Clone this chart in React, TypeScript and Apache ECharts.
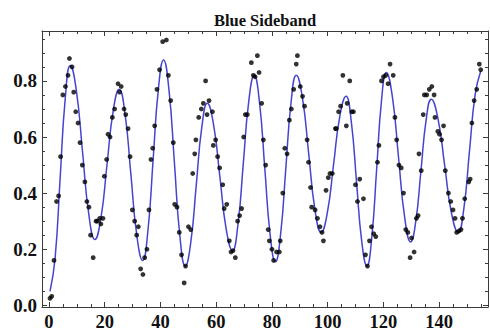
import React, { useEffect, useRef } from "react";
import * as echarts from "echarts";

const titleText = "Blue Sideband";
const xRange = [-2.51, 157.57];
const yRange = [-0.006, 0.978];
const xMajorTicks = [0, 20, 40, 60, 80, 100, 120, 140];
const xMinorTicks = [5, 10, 15, 25, 30, 35, 45, 50, 55, 65, 70, 75, 85, 90, 95, 105, 110, 115, 125, 130, 135, 145, 150, 155];
const yMajorTicks = [0, 0.2, 0.4, 0.6, 0.8];
const yMinorTicks = [0.05, 0.1, 0.15, 0.25, 0.3, 0.35, 0.45, 0.5, 0.55, 0.65, 0.7, 0.75, 0.85, 0.9, 0.95];

const dots: [number, number][] = [
  [0.36, 0.025], [0.97, 0.032], [1.8, 0.16], [2.72, 0.37], [3.44, 0.39], [4.16, 0.53], [4.98, 0.75], [5.9, 0.78],
  [6.83, 0.82], [7.34, 0.88], [8.26, 0.85], [8.88, 0.76], [9.6, 0.69], [10.42, 0.65], [11.14, 0.58], [11.96, 0.5],
  [12.88, 0.44], [13.6, 0.37], [14.32, 0.35], [14.94, 0.25], [15.86, 0.17], [16.89, 0.3], [17.4, 0.3], [18.22, 0.31],
  [18.63, 0.29], [19.35, 0.31], [19.86, 0.46], [20.69, 0.52], [21.2, 0.61], [21.92, 0.6], [22.74, 0.67], [23.56, 0.7],
  [24.79, 0.79], [25.31, 0.76], [25.92, 0.78], [26.95, 0.7], [27.56, 0.68], [28.39, 0.63], [29.1, 0.53], [29.93, 0.34],
  [30.75, 0.3], [31.47, 0.25], [32.08, 0.28], [32.9, 0.13], [33.72, 0.11], [34.34, 0.17], [35.16, 0.2], [35.88, 0.34],
  [36.6, 0.52], [37.21, 0.56], [37.93, 0.64], [38.75, 0.77], [39.68, 0.84], [40.81, 0.94], [42.14, 0.946], [42.86, 0.82],
  [43.68, 0.73], [44.61, 0.58], [45.12, 0.36], [45.94, 0.35], [46.76, 0.26], [47.58, 0.18], [48.51, 0.08], [49.02, 0.14],
  [50.05, 0.28], [50.87, 0.27], [51.59, 0.47], [52.31, 0.54], [52.72, 0.59], [53.74, 0.67], [54.67, 0.7], [55.39, 0.72],
  [56.21, 0.8], [56.72, 0.68], [57.44, 0.73], [58.67, 0.69], [58.98, 0.57], [59.8, 0.59], [60.52, 0.53], [61.24, 0.49],
  [62.37, 0.43], [62.88, 0.345], [63.8, 0.36], [64.73, 0.23], [65.34, 0.19], [66.06, 0.195], [66.88, 0.17], [67.7, 0.3],
  [68.42, 0.32], [69.14, 0.345], [69.86, 0.6], [70.48, 0.68], [71.19, 0.68], [72.63, 0.865], [73.35, 0.82], [73.97, 0.815],
  [74.79, 0.89], [75.4, 0.83], [76.33, 0.72], [76.94, 0.59], [77.77, 0.5], [78.69, 0.27], [79.1, 0.23], [80.02, 0.2],
  [80.64, 0.16], [81.67, 0.19], [82.69, 0.19], [83.0, 0.23], [83.92, 0.4], [84.64, 0.56], [85.46, 0.54], [86.29, 0.66],
  [87.0, 0.7], [87.83, 0.77], [88.75, 0.86], [89.16, 0.89], [90.19, 0.78], [91.01, 0.745], [91.73, 0.71], [92.65, 0.59],
  [93.16, 0.51], [93.88, 0.42], [94.29, 0.35], [95.52, 0.34], [96.35, 0.31], [97.27, 0.28], [97.99, 0.26], [98.5, 0.23],
  [99.43, 0.41], [100.25, 0.455], [100.86, 0.47], [101.68, 0.47], [102.81, 0.63], [103.12, 0.63], [103.94, 0.69], [104.66, 0.71],
  [105.48, 0.82], [106.72, 0.64], [107.02, 0.72], [107.95, 0.8], [108.67, 0.69], [109.28, 0.69], [110.0, 0.43], [110.72, 0.37],
  [111.54, 0.45], [112.87, 0.38], [113.59, 0.18], [114.31, 0.14], [115.03, 0.23], [115.75, 0.28], [116.57, 0.255], [117.29, 0.245],
  [117.91, 0.51], [118.42, 0.57], [119.34, 0.8], [120.06, 0.815], [120.88, 0.82], [121.7, 0.79], [122.42, 0.86], [123.55, 0.82],
  [124.17, 0.67], [124.78, 0.59], [125.6, 0.5], [126.43, 0.49], [127.25, 0.4], [128.07, 0.27], [128.79, 0.26], [129.61, 0.17],
  [130.12, 0.24], [131.05, 0.19], [131.87, 0.31], [132.48, 0.32], [132.79, 0.54], [133.61, 0.48], [134.33, 0.68], [134.74, 0.75],
  [135.56, 0.75], [136.49, 0.77], [137.41, 0.78], [138.23, 0.75], [138.54, 0.67], [139.57, 0.62], [140.18, 0.61], [140.9, 0.59],
  [141.62, 0.64], [142.24, 0.48], [143.36, 0.4], [144.19, 0.37], [145.01, 0.34], [145.73, 0.31], [146.34, 0.26], [147.16, 0.265],
  [147.88, 0.27], [148.4, 0.31], [149.22, 0.38], [150.65, 0.44], [151.17, 0.45], [151.78, 0.65], [152.6, 0.73], [153.53, 0.77],
  [154.45, 0.86], [154.97, 0.84],
];

const fitCurve: [number, number][] = [
  [0.36, 0.05], [2.19, 0.168], [4.0, 0.453], [5.83, 0.737], [7.65, 0.855],
  [9.85, 0.764], [12.06, 0.545], [14.27, 0.326], [16.48, 0.235],
  [18.66, 0.313], [20.84, 0.503], [23.03, 0.692], [25.2, 0.77],
  [27.31, 0.681], [29.41, 0.465], [31.52, 0.249], [33.62, 0.16],
  [35.5, 0.265], [37.37, 0.518], [39.25, 0.77], [41.12, 0.875],
  [43.07, 0.767], [45.02, 0.508], [46.97, 0.248], [48.92, 0.14],
  [50.9, 0.225], [52.87, 0.43], [54.85, 0.635], [56.82, 0.72],
  [59.08, 0.643], [61.34, 0.458], [63.6, 0.272], [65.86, 0.195],
  [67.81, 0.287], [69.76, 0.508], [71.71, 0.728], [73.66, 0.82],
  [75.56, 0.723], [77.46, 0.488], [79.36, 0.253], [81.26, 0.155],
  [83.13, 0.253], [85.0, 0.488], [86.88, 0.723], [88.75, 0.82],
  [90.99, 0.738], [93.22, 0.54], [95.45, 0.342], [97.68, 0.26],
  [99.92, 0.331], [102.15, 0.503], [104.38, 0.674], [106.61, 0.745],
  [108.49, 0.656], [110.36, 0.443], [112.24, 0.229], [114.11, 0.14],
  [115.85, 0.241], [117.6, 0.485], [119.34, 0.729], [121.09, 0.83],
  [123.27, 0.742], [125.45, 0.528], [127.64, 0.315], [129.81, 0.226],
  [131.66, 0.3], [133.51, 0.48], [135.36, 0.66], [137.2, 0.735],
  [139.62, 0.665], [142.03, 0.498], [144.44, 0.33], [146.86, 0.26],
  [148.89, 0.344], [150.91, 0.548], [152.94, 0.75], [154.97, 0.835],
];

const FONT = "'Liberation Serif', 'Times New Roman', serif";
const FRAME = "#3a3a3a";

function xAxisDef(position: string, ticks: number[], len: number, labels: boolean, line: boolean) {
  return {
    type: "value",
    position,
    min: xRange[0],
    max: xRange[1],
    axisLine: { show: line, onZero: false, lineStyle: { color: FRAME, width: 1 } },
    axisTick: { show: true, inside: true, length: len, customValues: ticks, lineStyle: { color: FRAME, width: 1 } },
    axisLabel: labels
      ? { show: true, customValues: ticks, margin: 5, color: "#111", fontFamily: FONT, fontWeight: "bold", fontSize: 18.5 }
      : { show: false },
    splitLine: { show: false },
  };
}

function yAxisDef(position: string, ticks: number[], len: number, labels: boolean, line: boolean) {
  return {
    type: "value",
    position,
    min: yRange[0],
    max: yRange[1],
    axisLine: { show: line, onZero: false, lineStyle: { color: FRAME, width: 1 } },
    axisTick: { show: true, inside: true, length: len, customValues: ticks, lineStyle: { color: FRAME, width: 1 } },
    axisLabel: labels
      ? {
          show: true,
          customValues: ticks,
          margin: 5,
          color: "#111",
          fontFamily: FONT,
          fontWeight: "bold",
          fontSize: 19,
          formatter: (v: number) => v.toFixed(1),
        }
      : { show: false },
    splitLine: { show: false },
  };
}

export default function App() {
  const ref = useRef<HTMLDivElement>(null);
  useEffect(() => {
    if (!ref.current) return;
    const chart = echarts.init(ref.current, undefined, { renderer: "svg" });
    chart.setOption({
      animation: false,
      backgroundColor: "#ffffff",
      title: {
        text: titleText,
        left: 265,
        top: 12,
        textAlign: "center",
        padding: 0,
        textStyle: { fontFamily: FONT, fontWeight: "bold", fontSize: 16.5, color: "#111" },
      },
      grid: { left: 42, top: 31, right: 2, bottom: 24, containLabel: false },
      xAxis: [
        xAxisDef("bottom", xMajorTicks, 5, true, true),
        xAxisDef("top", xMajorTicks, 5, false, true),
        xAxisDef("bottom", xMinorTicks, 3, false, false),
        xAxisDef("top", xMinorTicks, 3, false, false),
      ],
      yAxis: [
        yAxisDef("left", yMajorTicks, 5, true, true),
        yAxisDef("right", yMajorTicks, 5, false, true),
        yAxisDef("left", yMinorTicks, 3, false, false),
        yAxisDef("right", yMinorTicks, 3, false, false),
      ],
      series: [
        {
          type: "line",
          data: fitCurve,
          xAxisIndex: 0,
          yAxisIndex: 0,
          smooth: true,
          showSymbol: false,
          symbol: "none",
          lineStyle: { color: "#4444d0", width: 1.5 },
          z: 2,
        },
        {
          type: "scatter",
          data: dots,
          xAxisIndex: 0,
          yAxisIndex: 0,
          symbol: "circle",
          symbolSize: 4.8,
          itemStyle: { color: "#000000" },
          z: 3,
        },
      ],
    });
    return () => chart.dispose();
  }, []);
  return (
    <div
      ref={ref}
      style={{ position: "absolute", left: 0, top: 0, width: 490, height: 331, background: "#fff" }}
    />
  );
}
